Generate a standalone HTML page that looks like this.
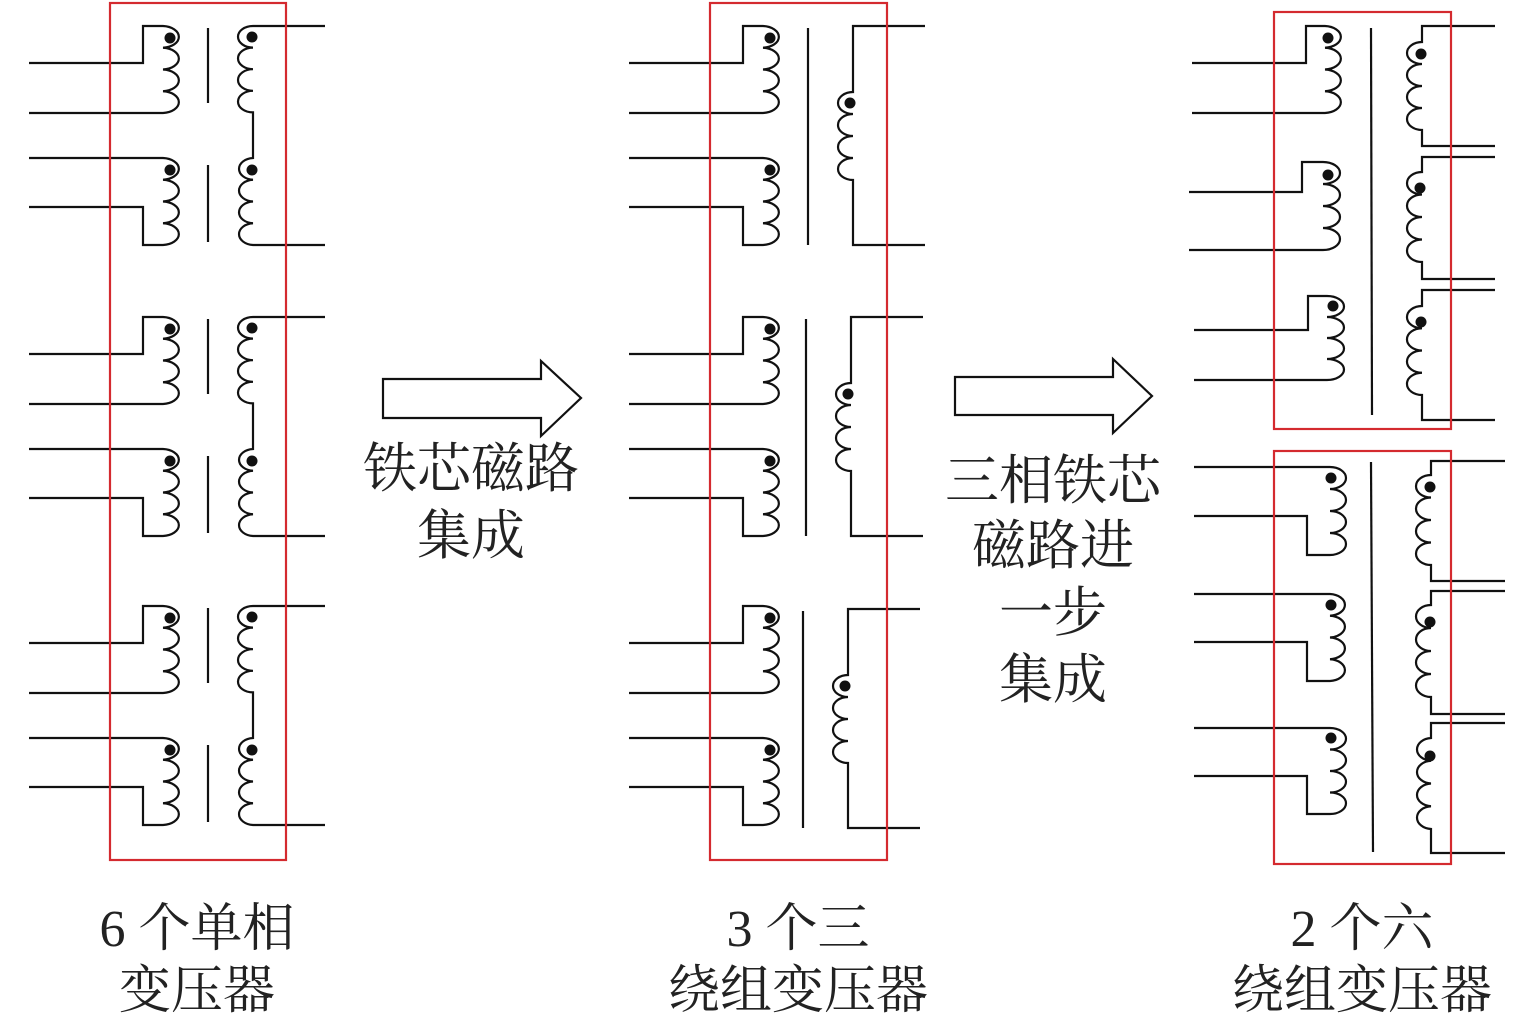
<!DOCTYPE html>
<html><head><meta charset="utf-8"><style>
html,body{margin:0;padding:0;background:#fff;}
body{width:1535px;height:1023px;position:relative;overflow:hidden;}
svg{position:absolute;left:0;top:0;}
.t{position:absolute;font-family:"Liberation Serif","Noto Serif CJK SC",serif;font-size:54px;line-height:66px;color:#222;text-align:center;white-space:nowrap;}
.b{font-size:52px;line-height:62px;}
</style></head><body>
<svg width="1535" height="1023" viewBox="0 0 1535 1023">
<defs>
<g id="lp">
 <path d="M29 63H143V26H163a17 10.9 0 0 1 0 21.75a17 10.9 0 0 1 0 21.75a17 10.9 0 0 1 0 21.75a17 10.9 0 0 1 0 21.75H29"/>
 <path d="M29 158H163a17 10.9 0 0 1 0 21.75a17 10.9 0 0 1 0 21.75a17 10.9 0 0 1 0 21.75a17 10.9 0 0 1 0 21.75H143V207H29"/>
 <circle cx="170" cy="38" r="5.5" fill="#111" stroke="none"/>
 <circle cx="170" cy="170" r="5.5" fill="#111" stroke="none"/>
</g>
<g id="ls">
 <path d="M208 28V103M208 165V242"/>
 <path d="M325 26H253a15 10.8 0 0 0 0 21.6a15 10.8 0 0 0 0 21.6a15 10.8 0 0 0 0 21.6a15 10.8 0 0 0 0 21.6V158a15 10.9 0 0 0 0 21.75a15 10.9 0 0 0 0 21.75a15 10.9 0 0 0 0 21.75a15 10.9 0 0 0 0 21.75H325"/>
 <circle cx="252" cy="37" r="5.5" fill="#111" stroke="none"/>
 <circle cx="252" cy="170" r="5.5" fill="#111" stroke="none"/>
</g>
<g id="ms">
 <path d="M808 28V245"/>
 <path d="M925 26H853V92a15 11 0 0 0 0 22a15 11 0 0 0 0 22a15 11 0 0 0 0 22a15 11 0 0 0 0 22V245H925"/>
 <circle cx="850" cy="103" r="5.5" fill="#111" stroke="none"/>
</g>
</defs>
<g fill="none" stroke="#111" stroke-width="2.2">
 <use href="#lp"/><use href="#ls"/>
 <g transform="translate(0,291)"><use href="#lp"/><use href="#ls"/></g>
 <g transform="translate(0,580)"><use href="#lp"/><use href="#ls"/></g>
 <g transform="translate(600,0)"><use href="#lp"/></g>
 <g transform="translate(600,291)"><use href="#lp"/></g>
 <g transform="translate(600,580)"><use href="#lp"/></g>
 <use href="#ms"/>
 <g transform="translate(-2,291)"><use href="#ms"/></g>
 <g transform="translate(-5,583)"><use href="#ms"/></g>

 <path d="M1192 63H1306V26H1325a17 10.9 0 0 1 0 21.75a17 10.9 0 0 1 0 21.75a17 10.9 0 0 1 0 21.75a17 10.9 0 0 1 0 21.75H1192"/>
 <path d="M1189 192H1302V162H1323a17 11 0 0 1 0 22a17 11 0 0 1 0 22a17 11 0 0 1 0 22a17 11 0 0 1 0 22H1189"/>
 <path d="M1194 330H1308V296H1327a17 10.5 0 0 1 0 21a17 10.5 0 0 1 0 21a17 10.5 0 0 1 0 21a17 10.5 0 0 1 0 21H1194"/>
 <path d="M1371 28L1372 415"/>
 <path d="M1495 26H1422V42a15 11 0 0 0 0 22a15 11 0 0 0 0 22a15 11 0 0 0 0 22a15 11 0 0 0 0 22V146H1495"/>
 <path d="M1495 157H1422V172a15 11.25 0 0 0 0 22.5a15 11.25 0 0 0 0 22.5a15 11.25 0 0 0 0 22.5a15 11.25 0 0 0 0 22.5V279H1495"/>
 <path d="M1495 290H1422V306a15 11.1 0 0 0 0 22.25a15 11.1 0 0 0 0 22.25a15 11.1 0 0 0 0 22.25a15 11.1 0 0 0 0 22.25V420H1495"/>
 <path d="M1194 467H1330a16 11 0 0 1 0 22a16 11 0 0 1 0 22a16 11 0 0 1 0 22a16 11 0 0 1 0 22H1307V516H1194"/>
 <path d="M1194 594H1330a16 10.9 0 0 1 0 21.75a16 10.9 0 0 1 0 21.75a16 10.9 0 0 1 0 21.75a16 10.9 0 0 1 0 21.75H1307V642H1194"/>
 <path d="M1194 728H1330a16 10.75 0 0 1 0 21.5a16 10.75 0 0 1 0 21.5a16 10.75 0 0 1 0 21.5a16 10.75 0 0 1 0 21.5H1307V776H1194"/>
 <path d="M1371 462L1373 852"/>
 <path d="M1505 461H1431V475a15 11.25 0 0 0 0 22.5a15 11.25 0 0 0 0 22.5a15 11.25 0 0 0 0 22.5a15 11.25 0 0 0 0 22.5V581H1505"/>
 <path d="M1505 591H1431V605a15 11.5 0 0 0 0 23a15 11.5 0 0 0 0 23a15 11.5 0 0 0 0 23a15 11.5 0 0 0 0 23V714H1505"/>
 <path d="M1505 723H1431V738a15 11.4 0 0 0 0 22.75a15 11.4 0 0 0 0 22.75a15 11.4 0 0 0 0 22.75a15 11.4 0 0 0 0 22.75V853H1505"/>
 <path d="M383 379H541V361L581 398L541 436V418H383Z"/>
 <path d="M955 377H1113V359L1152 396L1113 433V415H955Z"/>
</g>
<g fill="#111">
 <circle cx="1328" cy="38" r="5.5"/><circle cx="1328" cy="175" r="5.5"/><circle cx="1333" cy="306" r="5.5"/>
 <circle cx="1421" cy="54" r="5.5"/><circle cx="1420" cy="188" r="5.5"/><circle cx="1421" cy="322" r="5.5"/>
 <circle cx="1331" cy="478" r="5.5"/><circle cx="1331" cy="605" r="5.5"/><circle cx="1331" cy="738" r="5.5"/>
 <circle cx="1430" cy="487" r="5.5"/><circle cx="1430" cy="622" r="5.5"/><circle cx="1430" cy="756" r="5.5"/>
</g>
<g fill="none" stroke="#d42a2f" stroke-width="2.2">
 <rect x="110" y="3" width="176" height="857"/>
 <rect x="710" y="3" width="177" height="857"/>
 <rect x="1274" y="12" width="177" height="417"/>
 <rect x="1274" y="451" width="177" height="413"/>
</g>
</svg>
<div class="t" style="left:321px;top:436px;width:300px;">铁芯磁路</div>
<div class="t" style="left:321px;top:503px;width:300px;">集成</div>
<div class="t" style="left:903px;top:448px;width:300px;">三相铁芯</div>
<div class="t" style="left:903px;top:513px;width:300px;">磁路进</div>
<div class="t" style="left:903px;top:580px;width:300px;">一步</div>
<div class="t" style="left:903px;top:647px;width:300px;">集成</div>
<div class="t b" style="left:47px;top:899px;width:300px;">6 个单相</div>
<div class="t b" style="left:47px;top:961px;width:300px;">变压器</div>
<div class="t b" style="left:648px;top:899px;width:300px;">3 个三</div>
<div class="t b" style="left:648px;top:961px;width:300px;">绕组变压器</div>
<div class="t b" style="left:1212px;top:899px;width:300px;">2 个六</div>
<div class="t b" style="left:1212px;top:961px;width:300px;">绕组变压器</div>
</body></html>
